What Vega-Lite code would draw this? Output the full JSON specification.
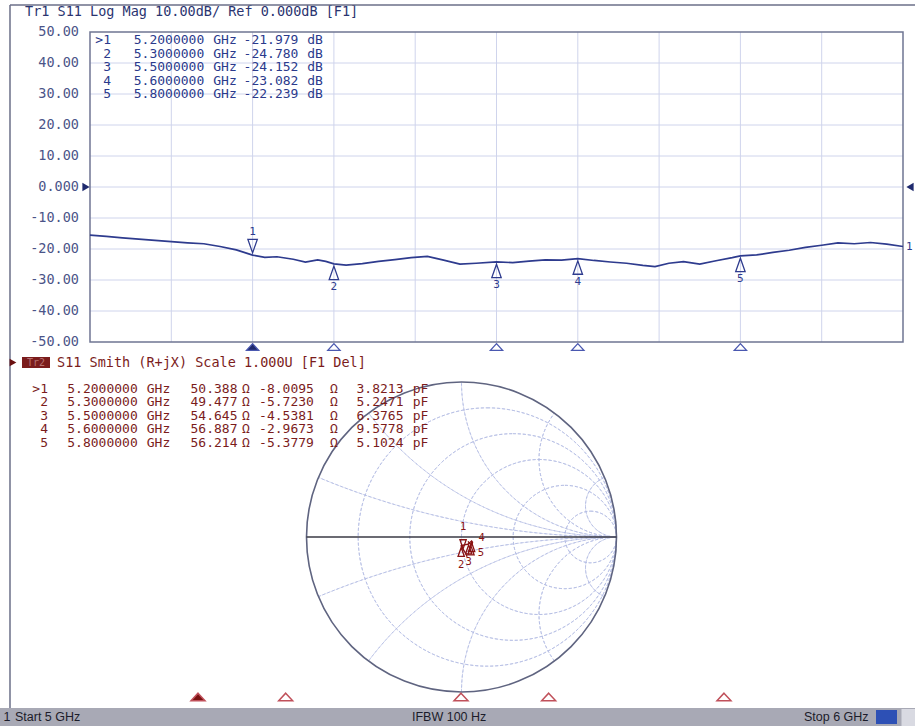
{
"$schema": "https://vega.github.io/schema/vega-lite/v6.json",
"width": 915, "height": 726, "padding": 0, "autosize": "none", "background": "white",
"config": {"view": {"stroke": null}, "axis": {"disable": true, "grid": false, "labels": false, "ticks": false, "domain": false}},
"datasets": {
 "markers": [
  {"m":1,"f":5.2,"db":-21.979,"act":1,"gr":0.0102,"gi":-0.0789,"id":">1","fq":"5.2000000","dbv":"-21.979","rv":"50.388","xv":"-8.0095","cv":"3.8213"},
  {"m":2,"f":5.3,"db":-24.78,"act":0,"gr":-0.002,"gi":-0.0577,"id":"2","fq":"5.3000000","dbv":"-24.780","rv":"49.477","xv":"-5.7230","cv":"5.2471"},
  {"m":3,"f":5.5,"db":-24.152,"act":0,"gr":0.0462,"gi":-0.0414,"id":"3","fq":"5.5000000","dbv":"-24.152","rv":"54.645","xv":"-4.5381","cv":"6.3765"},
  {"m":4,"f":5.6,"db":-23.082,"act":0,"gr":0.0652,"gi":-0.026,"id":"4","fq":"5.6000000","dbv":"-23.082","rv":"56.887","xv":"-2.9673","cv":"9.5778"},
  {"m":5,"f":5.8,"db":-22.239,"act":0,"gr":0.0609,"gi":-0.0475,"id":"5","fq":"5.8000000","dbv":"-22.239","rv":"56.214","xv":"-5.3779","cv":"5.1024"}
 ],
 "trace": [
  {"f":5.0,"db":-15.5},{"f":5.02,"db":-15.9},{"f":5.04,"db":-16.4},{"f":5.06,"db":-16.8},{"f":5.08,"db":-17.2},{"f":5.1,"db":-17.6},{"f":5.12,"db":-18.0},{"f":5.14,"db":-18.3},{"f":5.16,"db":-19.2},{"f":5.18,"db":-20.3},{"f":5.2,"db":-21.979},{"f":5.215,"db":-22.7},{"f":5.23,"db":-22.5},{"f":5.25,"db":-23.3},{"f":5.265,"db":-24.2},{"f":5.28,"db":-23.5},{"f":5.29,"db":-24.0},{"f":5.3,"db":-24.78},{"f":5.315,"db":-25.2},{"f":5.335,"db":-24.7},{"f":5.355,"db":-24.0},{"f":5.375,"db":-23.4},{"f":5.395,"db":-22.8},{"f":5.415,"db":-22.4},{"f":5.435,"db":-23.6},{"f":5.455,"db":-24.9},{"f":5.475,"db":-24.6},{"f":5.5,"db":-24.152},{"f":5.52,"db":-24.4},{"f":5.54,"db":-23.9},{"f":5.56,"db":-23.5},{"f":5.58,"db":-23.6},{"f":5.6,"db":-23.082},{"f":5.62,"db":-23.7},{"f":5.64,"db":-24.2},{"f":5.66,"db":-24.6},{"f":5.68,"db":-25.3},{"f":5.695,"db":-25.7},{"f":5.712,"db":-24.6},{"f":5.73,"db":-24.1},{"f":5.75,"db":-24.9},{"f":5.77,"db":-23.8},{"f":5.79,"db":-22.8},{"f":5.8,"db":-22.239},{"f":5.82,"db":-21.9},{"f":5.84,"db":-21.1},{"f":5.86,"db":-20.4},{"f":5.88,"db":-19.5},{"f":5.9,"db":-18.8},{"f":5.92,"db":-18.0},{"f":5.94,"db":-18.3},{"f":5.96,"db":-17.9},{"f":5.98,"db":-18.4},{"f":6.0,"db":-19.2}
 ],
 "strace": [
  {"f":5.1,"gr":0.036,"gi":-0.128},{"f":5.15,"gr":0.028,"gi":-0.108},{"f":5.2,"gr":0.0102,"gi":-0.0789},{"f":5.25,"gr":0.003,"gi":-0.066},{"f":5.3,"gr":-0.002,"gi":-0.0577},{"f":5.35,"gr":0.01,"gi":-0.053},{"f":5.4,"gr":0.027,"gi":-0.049},{"f":5.45,"gr":0.04,"gi":-0.047},{"f":5.5,"gr":0.0462,"gi":-0.0414},{"f":5.55,"gr":0.056,"gi":-0.034},{"f":5.6,"gr":0.0652,"gi":-0.026},{"f":5.65,"gr":0.071,"gi":-0.034},{"f":5.7,"gr":0.069,"gi":-0.045},{"f":5.75,"gr":0.064,"gi":-0.051},{"f":5.8,"gr":0.0609,"gi":-0.0475},{"f":5.85,"gr":0.05,"gi":-0.038},{"f":5.9,"gr":0.042,"gi":-0.028}
 ],
 "sgrid": [
  {"cx":0.166667,"cy":0,"R":0.833333,"t0":0,"t1":6.283185},
  {"cx":0.333333,"cy":0,"R":0.666667,"t0":0,"t1":6.283185},
  {"cx":0.5,"cy":0,"R":0.5,"t0":0,"t1":6.283185},
  {"cx":0.666667,"cy":0,"R":0.333333,"t0":0,"t1":6.283185},
  {"cx":0.833333,"cy":0,"R":0.166667,"t0":0,"t1":6.283185},
  {"cx":1,"cy":5,"R":5,"t0":3.141593,"t1":3.536383},
  {"cx":1,"cy":2,"R":2,"t0":3.141593,"t1":4.068888},
  {"cx":1,"cy":1,"R":1,"t0":3.141593,"t1":4.712389},
  {"cx":1,"cy":0.5,"R":0.5,"t0":3.141593,"t1":5.35589},
  {"cx":1,"cy":0.2,"R":0.2,"t0":3.141593,"t1":5.888394},
  {"cx":1,"cy":-5,"R":5,"t0":-0.394791,"t1":0},
  {"cx":1,"cy":-2,"R":2,"t0":-0.927295,"t1":0},
  {"cx":1,"cy":-1,"R":1,"t0":-1.570796,"t1":0},
  {"cx":1,"cy":-0.5,"R":0.5,"t0":-2.214297,"t1":0},
  {"cx":1,"cy":-0.2,"R":0.2,"t0":-2.746802,"t1":0}
 ],
 "ylab": [
  {"db":50,"lab":"50.00"},{"db":40,"lab":"40.00"},{"db":30,"lab":"30.00"},{"db":20,"lab":"20.00"},{"db":10,"lab":"10.00"},{"db":0,"lab":"0.000"},{"db":-10,"lab":"-10.00"},{"db":-20,"lab":"-20.00"},{"db":-30,"lab":"-30.00"},{"db":-40,"lab":"-40.00"},{"db":-50,"lab":"-50.00"}
 ]
},
"layer": [
 {"layer": [
  {"data":{"values":[{"f":5.1},{"f":5.2},{"f":5.3},{"f":5.4},{"f":5.5},{"f":5.6},{"f":5.7},{"f":5.8},{"f":5.9}]},
   "mark":{"type":"rule","color":"#cfd4ec","strokeWidth":1},
   "encoding":{"x":{"field":"f","type":"quantitative","scale":{"domain":[4.889299,6.01476],"nice":false,"zero":false},"axis":null},
     "y":{"datum":-50,"type":"quantitative","scale":{"domain":[-173.871,60.3226],"nice":false,"zero":false},"axis":null},"y2":{"datum":50}}},
  {"data":{"values":[{"db":-40},{"db":-30},{"db":-20},{"db":-10},{"db":0},{"db":10},{"db":20},{"db":30},{"db":40}]},
   "mark":{"type":"rule","color":"#cfd4ec","strokeWidth":1},
   "encoding":{"y":{"field":"db","type":"quantitative","scale":{"domain":[-173.871,60.3226],"nice":false,"zero":false},"axis":null},
     "x":{"datum":5,"type":"quantitative","scale":{"domain":[4.889299,6.01476],"nice":false,"zero":false},"axis":null},"x2":{"datum":6}}},
  {"data":{"values":[{}]},
   "mark":{"type":"rect","filled":false,"color":"#6f7593","strokeWidth":1.5},
   "encoding":{"x":{"datum":5,"type":"quantitative","scale":{"domain":[4.889299,6.01476],"nice":false,"zero":false},"axis":null},"x2":{"datum":6},
     "y":{"datum":-50,"type":"quantitative","scale":{"domain":[-173.871,60.3226],"nice":false,"zero":false},"axis":null},"y2":{"datum":50}}},
  {"data":{"name":"trace"},
   "mark":{"type":"line","color":"#2e3b8e","strokeWidth":1.7},
   "encoding":{"x":{"field":"f","type":"quantitative","scale":{"domain":[4.889299,6.01476],"nice":false,"zero":false},"axis":null},
     "y":{"field":"db","type":"quantitative","scale":{"domain":[-173.871,60.3226],"nice":false,"zero":false},"axis":null}}},
  {"data":{"name":"trace"},"transform":[{"filter":"datum.f == 6"}],
   "mark":{"type":"text","align":"left","baseline":"middle","dx":3,"font":"DejaVu Sans Mono","fontSize":11,"color":"#2e3b8e"},
   "encoding":{"x":{"field":"f","type":"quantitative","scale":{"domain":[4.889299,6.01476],"nice":false,"zero":false},"axis":null},
     "y":{"field":"db","type":"quantitative","scale":{"domain":[-173.871,60.3226],"nice":false,"zero":false},"axis":null},"text":{"value":"1"}}},
  {"data":{"name":"markers"},"transform":[{"filter":"datum.act == 1"}],
   "mark":{"type":"point","shape":"M-0.7,-1L0.7,-1L0,1Z","size":180,"filled":false,"color":"#2e3b8e","strokeWidth":1.3,"opacity":1,"yOffset":-9},
   "encoding":{"x":{"field":"f","type":"quantitative","scale":{"domain":[4.889299,6.01476],"nice":false,"zero":false},"axis":null},
     "y":{"field":"db","type":"quantitative","scale":{"domain":[-173.871,60.3226],"nice":false,"zero":false},"axis":null}}},
  {"data":{"name":"markers"},"transform":[{"filter":"datum.act == 1"}],
   "mark":{"type":"text","baseline":"middle","dy":-23,"font":"DejaVu Sans Mono","fontSize":11,"color":"#2e3b8e"},
   "encoding":{"x":{"field":"f","type":"quantitative","scale":{"domain":[4.889299,6.01476],"nice":false,"zero":false},"axis":null},
     "y":{"field":"db","type":"quantitative","scale":{"domain":[-173.871,60.3226],"nice":false,"zero":false},"axis":null},"text":{"field":"m"}}},
  {"data":{"name":"markers"},"transform":[{"filter":"datum.act == 0"}],
   "mark":{"type":"point","shape":"M0,-1L0.7,1L-0.7,1Z","size":180,"filled":false,"color":"#2e3b8e","strokeWidth":1.3,"opacity":1,"yOffset":9},
   "encoding":{"x":{"field":"f","type":"quantitative","scale":{"domain":[4.889299,6.01476],"nice":false,"zero":false},"axis":null},
     "y":{"field":"db","type":"quantitative","scale":{"domain":[-173.871,60.3226],"nice":false,"zero":false},"axis":null}}},
  {"data":{"name":"markers"},"transform":[{"filter":"datum.act == 0"}],
   "mark":{"type":"text","baseline":"middle","dy":23,"font":"DejaVu Sans Mono","fontSize":11,"color":"#2e3b8e"},
   "encoding":{"x":{"field":"f","type":"quantitative","scale":{"domain":[4.889299,6.01476],"nice":false,"zero":false},"axis":null},
     "y":{"field":"db","type":"quantitative","scale":{"domain":[-173.871,60.3226],"nice":false,"zero":false},"axis":null},"text":{"field":"m"}}},
  {"data":{"name":"markers"},
   "mark":{"type":"point","shape":"M0,-0.55L1,0.55L-1,0.55Z","size":150,"filled":true,"stroke":"#4a58b0","strokeWidth":1.3,"opacity":1,"yOffset":5},
   "encoding":{"x":{"field":"f","type":"quantitative","scale":{"domain":[4.889299,6.01476],"nice":false,"zero":false},"axis":null},
     "y":{"datum":-50,"type":"quantitative","scale":{"domain":[-173.871,60.3226],"nice":false,"zero":false},"axis":null},
     "fill":{"condition":{"test":"datum.act == 1","value":"#1f2a6e"},"value":"white"}}},
  {"data":{"values":[{}]},
   "mark":{"type":"point","shape":"triangle-right","size":70,"filled":true,"color":"#1f2a6e","opacity":1,"xOffset":-4},
   "encoding":{"x":{"datum":5,"type":"quantitative","scale":{"domain":[4.889299,6.01476],"nice":false,"zero":false},"axis":null},
     "y":{"datum":0,"type":"quantitative","scale":{"domain":[-173.871,60.3226],"nice":false,"zero":false},"axis":null}}},
  {"data":{"values":[{}]},
   "mark":{"type":"point","shape":"triangle-left","size":70,"filled":true,"color":"#1f2a6e","opacity":1,"xOffset":7},
   "encoding":{"x":{"datum":6,"type":"quantitative","scale":{"domain":[4.889299,6.01476],"nice":false,"zero":false},"axis":null},
     "y":{"datum":0,"type":"quantitative","scale":{"domain":[-173.871,60.3226],"nice":false,"zero":false},"axis":null}}},
  {"data":{"values":[{}]},
   "mark":{"type":"text","align":"left","baseline":"middle","font":"DejaVu Sans Mono","fontSize":13.5,"color":"#2a3470"},
   "encoding":{"x":{"datum":4.920049,"type":"quantitative","scale":{"domain":[4.889299,6.01476],"nice":false,"zero":false},"axis":null},
     "y":{"datum":56.4516,"type":"quantitative","scale":{"domain":[-173.871,60.3226],"nice":false,"zero":false},"axis":null},
     "text":{"value":"Tr1 S11 Log Mag 10.00dB/ Ref 0.000dB [F1]"}}},
  {"data":{"name":"ylab"},
   "mark":{"type":"text","align":"right","baseline":"middle","font":"DejaVu Sans Mono","fontSize":13.5,"color":"#4b5488"},
   "encoding":{"x":{"datum":4.98647,"type":"quantitative","scale":{"domain":[4.889299,6.01476],"nice":false,"zero":false},"axis":null},
     "y":{"field":"db","type":"quantitative","scale":{"domain":[-173.871,60.3226],"nice":false,"zero":false},"axis":null},
     "text":{"field":"lab"}}}
 ]},
 {"data":{"name":"markers"},
  "encoding":{"y":{"field":"m","type":"quantitative","scale":{"domain":[-1.962963,51.814815],"nice":false,"zero":false,"reverse":true},"axis":null}},
  "layer": [
   {"mark":{"type":"text","align":"right","baseline":"middle","font":"DejaVu Sans Mono","fontSize":13,"color":"#2b3a8c"},
    "encoding":{"x":{"datum":5.02583,"type":"quantitative","scale":{"domain":[4.889299,6.01476],"nice":false,"zero":false},"axis":null},"text":{"field":"id"}}},
   {"mark":{"type":"text","align":"center","baseline":"middle","font":"DejaVu Sans Mono","fontSize":13,"color":"#2b3a8c"},
    "encoding":{"x":{"datum":5.097171,"type":"quantitative","scale":{"domain":[4.889299,6.01476],"nice":false,"zero":false},"axis":null},"text":{"field":"fq"}}},
   {"mark":{"type":"text","align":"center","baseline":"middle","font":"DejaVu Sans Mono","fontSize":13,"color":"#2b3a8c"},
    "encoding":{"x":{"datum":5.166052,"type":"quantitative","scale":{"domain":[4.889299,6.01476],"nice":false,"zero":false},"axis":null},"text":{"value":"GHz"}}},
   {"mark":{"type":"text","align":"center","baseline":"middle","font":"DejaVu Sans Mono","fontSize":13,"color":"#2b3a8c"},
    "encoding":{"x":{"datum":5.222632,"type":"quantitative","scale":{"domain":[4.889299,6.01476],"nice":false,"zero":false},"axis":null},"text":{"field":"dbv"}}},
   {"mark":{"type":"text","align":"center","baseline":"middle","font":"DejaVu Sans Mono","fontSize":13,"color":"#2b3a8c"},
    "encoding":{"x":{"datum":5.276753,"type":"quantitative","scale":{"domain":[4.889299,6.01476],"nice":false,"zero":false},"axis":null},"text":{"value":"dB"}}}
  ]},
 {"layer": [
  {"data":{"values":[{}]},
   "mark":{"type":"rule","color":"#6b6f88","strokeWidth":1.5},
   "encoding":{"x":{"datum":-2.912903,"type":"quantitative","scale":{"domain":[-2.977419,2.925806],"nice":false,"zero":false},"axis":null},
     "y":{"datum":3.432258,"type":"quantitative","scale":{"domain":[-1.219355,3.464516],"nice":false,"zero":false},"axis":null},"y2":{"datum":-1.103226}}},
  {"data":{"values":[{}]},
   "mark":{"type":"rule","color":"#6b6f88","strokeWidth":1.5},
   "encoding":{"x":{"datum":-2.912903,"type":"quantitative","scale":{"domain":[-2.977419,2.925806],"nice":false,"zero":false},"axis":null},"x2":{"datum":2.925806},
     "y":{"datum":3.432258,"type":"quantitative","scale":{"domain":[-1.219355,3.464516],"nice":false,"zero":false},"axis":null}}},
  {"data":{"name":"sgrid"},
   "mark":{"type":"arc","filled":false,"color":"#b4bde3","strokeWidth":0.8,"strokeDash":[3,2]},
   "encoding":{"x":{"field":"cx","type":"quantitative","scale":{"domain":[-2.977419,2.925806],"nice":false,"zero":false},"axis":null},
     "y":{"field":"cy","type":"quantitative","scale":{"domain":[-1.219355,3.464516],"nice":false,"zero":false},"axis":null},
     "theta":{"field":"t0","type":"quantitative","scale":null,"stack":null},"theta2":{"field":"t1"},
     "radius":{"field":"R","type":"quantitative","scale":{"type":"linear","domain":[0,1],"range":[0,155],"zero":true}},"radius2":{"field":"R"}}},
  {"data":{"values":[{"cx":0,"cy":0,"R":1,"t0":0,"t1":6.283185}]},
   "mark":{"type":"arc","filled":false,"color":"#5f6480","strokeWidth":1.6},
   "encoding":{"x":{"field":"cx","type":"quantitative","scale":{"domain":[-2.977419,2.925806],"nice":false,"zero":false},"axis":null},
     "y":{"field":"cy","type":"quantitative","scale":{"domain":[-1.219355,3.464516],"nice":false,"zero":false},"axis":null},
     "theta":{"field":"t0","type":"quantitative","scale":null,"stack":null},"theta2":{"field":"t1"},
     "radius":{"field":"R","type":"quantitative","scale":{"type":"linear","domain":[0,1],"range":[0,155],"zero":true}},"radius2":{"field":"R"}}},
  {"data":{"values":[{}]},
   "mark":{"type":"rule","color":"#3a3a44","strokeWidth":1.7},
   "encoding":{"x":{"datum":-1,"type":"quantitative","scale":{"domain":[-2.977419,2.925806],"nice":false,"zero":false},"axis":null},"x2":{"datum":1},
     "y":{"datum":0,"type":"quantitative","scale":{"domain":[-1.219355,3.464516],"nice":false,"zero":false},"axis":null}}},
  {"data":{"name":"strace"},
   "mark":{"type":"line","color":"#8a1414","strokeWidth":1.4},
   "encoding":{"x":{"field":"gr","type":"quantitative","scale":{"domain":[-2.977419,2.925806],"nice":false,"zero":false},"axis":null},
     "y":{"field":"gi","type":"quantitative","scale":{"domain":[-1.219355,3.464516],"nice":false,"zero":false},"axis":null},
     "order":{"field":"f","type":"quantitative"}}},
  {"data":{"name":"markers"},"transform":[{"filter":"datum.act == 1"}],
   "mark":{"type":"point","shape":"M-0.7,-1L0.7,-1L0,1Z","size":81,"filled":false,"color":"#8a1414","strokeWidth":1.3,"opacity":1,"yOffset":-5},
   "encoding":{"x":{"field":"gr","type":"quantitative","scale":{"domain":[-2.977419,2.925806],"nice":false,"zero":false},"axis":null},
     "y":{"field":"gi","type":"quantitative","scale":{"domain":[-1.219355,3.464516],"nice":false,"zero":false},"axis":null}}},
  {"data":{"name":"markers"},"transform":[{"filter":"datum.act == 1"}],
   "mark":{"type":"text","baseline":"middle","dy":-22,"font":"DejaVu Sans Mono","fontSize":10.5,"color":"#8a1414"},
   "encoding":{"x":{"field":"gr","type":"quantitative","scale":{"domain":[-2.977419,2.925806],"nice":false,"zero":false},"axis":null},
     "y":{"field":"gi","type":"quantitative","scale":{"domain":[-1.219355,3.464516],"nice":false,"zero":false},"axis":null},"text":{"field":"m"}}},
  {"data":{"name":"markers"},"transform":[{"filter":"datum.act == 0"}],
   "mark":{"type":"point","shape":"M0,-1L0.7,1L-0.7,1Z","size":81,"filled":false,"color":"#8a1414","strokeWidth":1.3,"opacity":1,"yOffset":6},
   "encoding":{"x":{"field":"gr","type":"quantitative","scale":{"domain":[-2.977419,2.925806],"nice":false,"zero":false},"axis":null},
     "y":{"field":"gi","type":"quantitative","scale":{"domain":[-1.219355,3.464516],"nice":false,"zero":false},"axis":null}}},
  {"data":{"name":"markers"},"transform":[{"filter":"datum.m == 2 || datum.m == 3"}],
   "mark":{"type":"text","baseline":"middle","dy":19,"font":"DejaVu Sans Mono","fontSize":10.5,"color":"#8a1414"},
   "encoding":{"x":{"field":"gr","type":"quantitative","scale":{"domain":[-2.977419,2.925806],"nice":false,"zero":false},"axis":null},
     "y":{"field":"gi","type":"quantitative","scale":{"domain":[-1.219355,3.464516],"nice":false,"zero":false},"axis":null},"text":{"field":"m"}}},
  {"data":{"name":"markers"},"transform":[{"filter":"datum.m == 4"}],
   "mark":{"type":"text","baseline":"middle","dx":10,"dy":-3,"font":"DejaVu Sans Mono","fontSize":10.5,"color":"#8a1414"},
   "encoding":{"x":{"field":"gr","type":"quantitative","scale":{"domain":[-2.977419,2.925806],"nice":false,"zero":false},"axis":null},
     "y":{"field":"gi","type":"quantitative","scale":{"domain":[-1.219355,3.464516],"nice":false,"zero":false},"axis":null},"text":{"field":"m"}}},
  {"data":{"name":"markers"},"transform":[{"filter":"datum.m == 5"}],
   "mark":{"type":"text","baseline":"middle","dx":10,"dy":9,"font":"DejaVu Sans Mono","fontSize":10.5,"color":"#8a1414"},
   "encoding":{"x":{"field":"gr","type":"quantitative","scale":{"domain":[-2.977419,2.925806],"nice":false,"zero":false},"axis":null},
     "y":{"field":"gi","type":"quantitative","scale":{"domain":[-1.219355,3.464516],"nice":false,"zero":false},"axis":null},"text":{"field":"m"}}},
  {"data":{"values":[{}]},
   "mark":{"type":"point","shape":"triangle-right","size":60,"filled":true,"color":"#6a1010","opacity":1},
   "encoding":{"x":{"datum":-2.893548,"type":"quantitative","scale":{"domain":[-2.977419,2.925806],"nice":false,"zero":false},"axis":null},
     "y":{"datum":1.125806,"type":"quantitative","scale":{"domain":[-1.219355,3.464516],"nice":false,"zero":false},"axis":null}}},
  {"data":{"values":[{}]},
   "mark":{"type":"rect","color":"#7b1c1c"},
   "encoding":{"x":{"datum":-2.835484,"type":"quantitative","scale":{"domain":[-2.977419,2.925806],"nice":false,"zero":false},"axis":null},"x2":{"datum":-2.654839},
     "y":{"datum":1.16129,"type":"quantitative","scale":{"domain":[-1.219355,3.464516],"nice":false,"zero":false},"axis":null},"y2":{"datum":1.090323}}},
  {"data":{"values":[{}]},
   "mark":{"type":"text","align":"center","baseline":"middle","font":"DejaVu Sans Mono","fontSize":10,"color":"#b87070"},
   "encoding":{"x":{"datum":-2.745161,"type":"quantitative","scale":{"domain":[-2.977419,2.925806],"nice":false,"zero":false},"axis":null},
     "y":{"datum":1.125806,"type":"quantitative","scale":{"domain":[-1.219355,3.464516],"nice":false,"zero":false},"axis":null},"text":{"value":"Tr2"}}},
  {"data":{"values":[{}]},
   "mark":{"type":"text","align":"left","baseline":"middle","font":"DejaVu Sans Mono","fontSize":13.5,"color":"#7b1c1c"},
   "encoding":{"x":{"datum":-2.609677,"type":"quantitative","scale":{"domain":[-2.977419,2.925806],"nice":false,"zero":false},"axis":null},
     "y":{"datum":1.122581,"type":"quantitative","scale":{"domain":[-1.219355,3.464516],"nice":false,"zero":false},"axis":null},"text":{"value":"S11 Smith (R+jX) Scale 1.000U [F1 Del]"}}},
  {"data":{"values":[{}]},
   "mark":{"type":"rect","color":"#a8a9b5"},
   "encoding":{"x":{"datum":-2.977419,"type":"quantitative","scale":{"domain":[-2.977419,2.925806],"nice":false,"zero":false},"axis":null},"x2":{"datum":2.925806},
     "y":{"datum":-1.103226,"type":"quantitative","scale":{"domain":[-1.219355,3.464516],"nice":false,"zero":false},"axis":null},"y2":{"datum":-1.219355}}},
  {"data":{"values":[{}]},
   "mark":{"type":"rect","color":"#2d50b5"},
   "encoding":{"x":{"datum":2.674194,"type":"quantitative","scale":{"domain":[-2.977419,2.925806],"nice":false,"zero":false},"axis":null},"x2":{"datum":2.809677},
     "y":{"datum":-1.116129,"type":"quantitative","scale":{"domain":[-1.219355,3.464516],"nice":false,"zero":false},"axis":null},"y2":{"datum":-1.206452}}},
  {"data":{"values":[{}]},
   "mark":{"type":"rect","color":"#d9dae2"},
   "encoding":{"x":{"datum":2.83871,"type":"quantitative","scale":{"domain":[-2.977419,2.925806],"nice":false,"zero":false},"axis":null},"x2":{"datum":2.925806},
     "y":{"datum":-1.109677,"type":"quantitative","scale":{"domain":[-1.219355,3.464516],"nice":false,"zero":false},"axis":null},"y2":{"datum":-1.219355}}},
  {"data":{"values":[{"t":"1","x":-2.954839},{"t":"Start 5 GHz","x":-2.880645},{"t":"IFBW 100 Hz","x":-0.319355},{"t":"Stop 6 GHz","x":2.209677}]},
   "mark":{"type":"text","align":"left","baseline":"middle","font":"Liberation Sans","fontSize":12.5,"color":"#1c1c2a"},
   "encoding":{"x":{"field":"x","type":"quantitative","scale":{"domain":[-2.977419,2.925806],"nice":false,"zero":false},"axis":null},
     "y":{"datum":-1.16129,"type":"quantitative","scale":{"domain":[-1.219355,3.464516],"nice":false,"zero":false},"axis":null},"text":{"field":"t"}}}
 ]},
 {"data":{"name":"markers"},
  "encoding":{"y":{"field":"m","type":"quantitative","scale":{"domain":[-27.777778,26.0],"nice":false,"zero":false,"reverse":true},"axis":null}},
  "layer": [
   {"mark":{"type":"text","align":"right","baseline":"middle","font":"DejaVu Sans Mono","fontSize":13,"color":"#7b1c1c"},
    "encoding":{"x":{"datum":-2.667742,"type":"quantitative","scale":{"domain":[-2.977419,2.925806],"nice":false,"zero":false},"axis":null},"text":{"field":"id"}}},
   {"mark":{"type":"text","align":"center","baseline":"middle","font":"DejaVu Sans Mono","fontSize":13,"color":"#7b1c1c"},
    "encoding":{"x":{"datum":-2.316129,"type":"quantitative","scale":{"domain":[-2.977419,2.925806],"nice":false,"zero":false},"axis":null},"text":{"field":"fq"}}},
   {"mark":{"type":"text","align":"center","baseline":"middle","font":"DejaVu Sans Mono","fontSize":13,"color":"#7b1c1c"},
    "encoding":{"x":{"datum":-1.954839,"type":"quantitative","scale":{"domain":[-2.977419,2.925806],"nice":false,"zero":false},"axis":null},"text":{"value":"GHz"}}},
   {"mark":{"type":"text","align":"center","baseline":"middle","font":"DejaVu Sans Mono","fontSize":13,"color":"#7b1c1c"},
    "encoding":{"x":{"datum":-1.596774,"type":"quantitative","scale":{"domain":[-2.977419,2.925806],"nice":false,"zero":false},"axis":null},"text":{"field":"rv"}}},
   {"mark":{"type":"text","align":"center","baseline":"middle","font":"DejaVu Sans Mono","fontSize":13,"color":"#7b1c1c"},
    "encoding":{"x":{"datum":-1.390323,"type":"quantitative","scale":{"domain":[-2.977419,2.925806],"nice":false,"zero":false},"axis":null},"text":{"value":"Ω"}}},
   {"mark":{"type":"text","align":"center","baseline":"middle","font":"DejaVu Sans Mono","fontSize":13,"color":"#7b1c1c"},
    "encoding":{"x":{"datum":-1.129032,"type":"quantitative","scale":{"domain":[-2.977419,2.925806],"nice":false,"zero":false},"axis":null},"text":{"field":"xv"}}},
   {"mark":{"type":"text","align":"center","baseline":"middle","font":"DejaVu Sans Mono","fontSize":13,"color":"#7b1c1c"},
    "encoding":{"x":{"datum":-0.822581,"type":"quantitative","scale":{"domain":[-2.977419,2.925806],"nice":false,"zero":false},"axis":null},"text":{"value":"Ω"}}},
   {"mark":{"type":"text","align":"center","baseline":"middle","font":"DejaVu Sans Mono","fontSize":13,"color":"#7b1c1c"},
    "encoding":{"x":{"datum":-0.525806,"type":"quantitative","scale":{"domain":[-2.977419,2.925806],"nice":false,"zero":false},"axis":null},"text":{"field":"cv"}}},
   {"mark":{"type":"text","align":"center","baseline":"middle","font":"DejaVu Sans Mono","fontSize":13,"color":"#7b1c1c"},
    "encoding":{"x":{"datum":-0.264516,"type":"quantitative","scale":{"domain":[-2.977419,2.925806],"nice":false,"zero":false},"axis":null},"text":{"value":"pF"}}}
  ]},
 {"data":{"name":"markers"},
  "mark":{"type":"point","shape":"M0,-0.55L1,0.55L-1,0.55Z","size":196,"filled":true,"stroke":"#c0505a","strokeWidth":1.5,"opacity":1},
  "encoding":{"x":{"field":"f","type":"quantitative","scale":{"domain":[4.974105,6.017911],"nice":false,"zero":false},"axis":null},
    "y":{"datum":-1.032258,"type":"quantitative","scale":{"domain":[-1.219355,3.464516],"nice":false,"zero":false},"axis":null},
    "fill":{"condition":{"test":"datum.act == 1","value":"#7a1212"},"value":"white"}}}
],
"resolve": {"scale": {"x": "independent", "y": "independent"}}
}
